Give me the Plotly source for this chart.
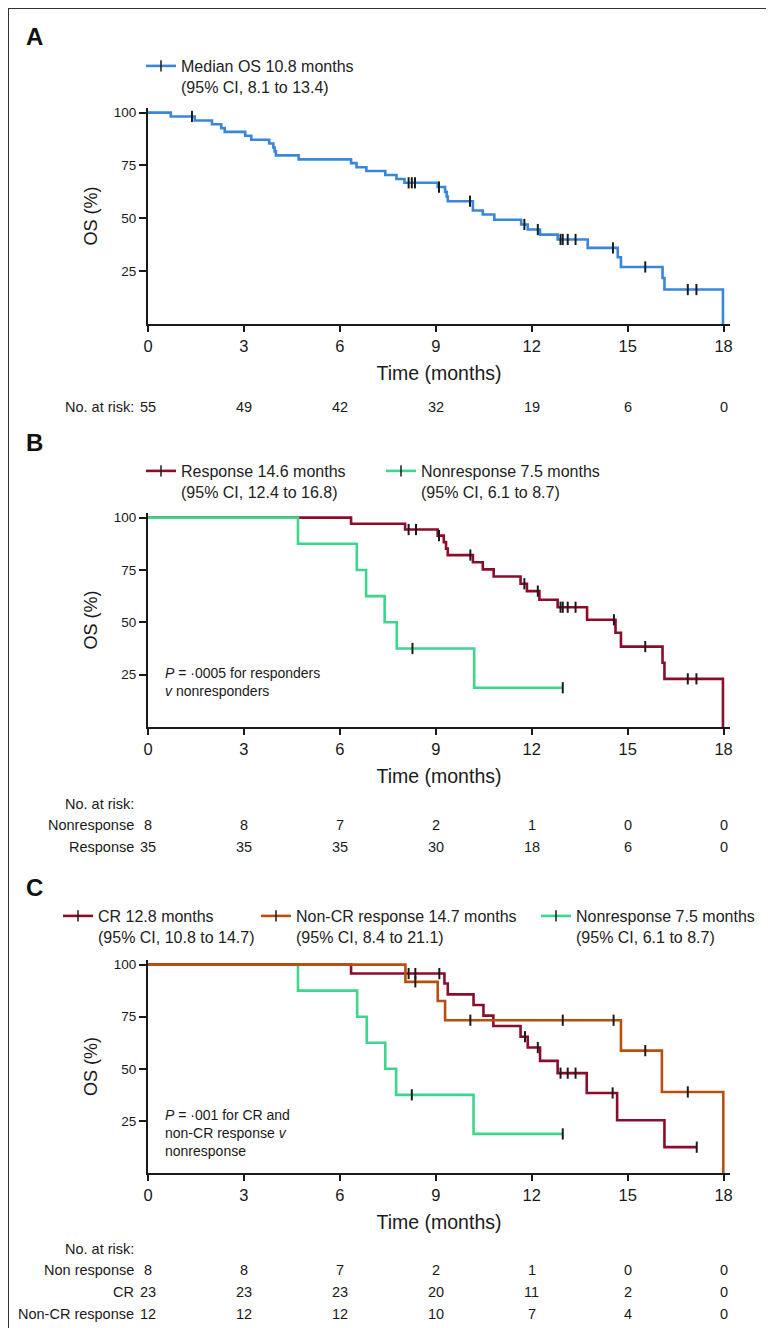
import plotly.graph_objects as go

# ---------------- data ----------------
risk_ticks = [0, 3, 6, 9, 12, 15, 18]
y_ticks = [25, 50, 75, 100]

# Panel A - all patients
a_time = [0, 0.71, 1.46, 2.0, 2.29, 2.40, 3.04, 3.23, 3.79, 3.92, 3.96, 4.0, 4.71,
          6.35, 6.52, 6.83, 7.42, 7.77, 8.02, 9.06, 9.29, 9.34, 9.375, 10.16, 10.47,
          10.83, 11.67, 11.875, 12.26, 12.81, 13.75, 14.69, 14.79, 16.09, 16.15, 17.98]
a_surv = [100, 98.2, 96.3, 94.5, 92.7, 90.9, 89.1, 87.2, 85.4, 83.5, 81.7, 79.8, 77.9,
          76.1, 74.2, 72.4, 70.5, 68.6, 66.8, 64.8, 62.5, 60.3, 58.1, 53.7, 51.8,
          49.3, 47.1, 44.7, 42.3, 40.0, 36.0, 31.6, 27.0, 21.8, 16.3, 0]
a_cens_time = [1.375, 8.15, 8.25, 8.35, 9.1, 10.07, 11.77, 12.19, 12.9, 12.97, 13.125,
               13.37, 14.54, 15.55, 16.88, 17.15]
a_cens_surv = [98.2, 66.8, 66.8, 66.8, 64.8, 58.1, 47.1, 44.7, 40.0, 40.0, 40.0,
               40.0, 36.0, 27.0, 16.3, 16.3]
a_risk = [55, 49, 42, 32, 19, 6, 0]

# Panel B - response vs nonresponse
b_resp_time = [0, 6.35, 8.04, 9.06, 9.25, 9.32, 9.375, 10.16, 10.47, 10.81, 11.65,
               11.85, 12.24, 12.81, 13.73, 14.62, 14.79, 16.09, 16.15, 17.98]
b_resp_surv = [100, 97.1, 94.3, 91.4, 88.3, 85.2, 82.1, 78.7, 75.3, 71.9, 68.4,
               64.9, 60.8, 57.2, 51.2, 45.0, 38.4, 30.7, 23.0, 0]
b_resp_cens_time = [8.15, 8.38, 9.1, 10.08, 11.77, 12.19, 12.9, 12.97, 13.125, 13.37,
                    14.57, 15.55, 16.88, 17.15]
b_resp_cens_surv = [94.3, 94.3, 91.4, 82.1, 68.4, 64.9, 57.2, 57.2, 57.2, 57.2,
                    51.2, 38.4, 23.0, 23.0]
b_non_time = [0, 4.69, 6.53, 6.82, 7.4, 7.78, 10.2, 12.97]
b_non_surv = [100, 87.5, 75.0, 62.5, 50.0, 37.5, 18.75, 18.75]
b_non_cens_time = [8.27, 12.97]
b_non_cens_surv = [37.5, 18.75]
b_non_risk = [8, 8, 7, 2, 1, 0, 0]
b_resp_risk = [35, 35, 35, 30, 18, 6, 0]

# Panel C - CR vs non-CR response vs nonresponse
c_cr_time = [0, 6.35, 9.27, 9.375, 10.18, 10.49, 10.8, 11.65, 11.875, 12.26, 12.81,
             13.72, 14.67, 16.15, 17.16]
c_cr_surv = [100, 95.7, 90.9, 85.7, 80.6, 75.5, 70.5, 65.4, 60.2, 53.8, 47.9,
             38.4, 25.3, 12.4, 12.4]
c_cr_cens_time = [8.15, 8.36, 9.11, 11.79, 12.19, 12.9, 13.125, 13.37, 14.53, 17.16]
c_cr_cens_surv = [95.7, 95.7, 95.7, 65.4, 60.2, 47.9, 47.9, 47.9, 38.4, 12.4]
c_ncr_time = [0, 8.05, 9.06, 9.29, 14.79, 16.07, 17.99]
c_ncr_surv = [100, 91.7, 82.5, 73.3, 58.7, 38.9, 0]
c_ncr_cens_time = [8.36, 10.08, 12.97, 14.56, 15.55, 16.88]
c_ncr_cens_surv = [91.7, 73.3, 73.3, 73.3, 58.7, 38.9]
c_non_time = [0, 4.69, 6.54, 6.84, 7.42, 7.76, 10.18, 12.97]
c_non_surv = [100, 87.5, 75.0, 62.5, 50.0, 37.5, 18.75, 18.75]
c_non_cens_time = [8.25, 12.97]
c_non_cens_surv = [37.5, 18.75]
c_non_risk = [8, 8, 7, 2, 1, 0, 0]
c_cr_risk = [23, 23, 23, 20, 11, 2, 0]
c_ncr_risk = [12, 12, 12, 10, 7, 4, 0]

# ---------------- styling ----------------
W, H = 774, 1328
SANS = "Liberation Sans, Arial, Helvetica, sans-serif"
INK = "#1a1a1a"
BLUE = "#3a86d8"
RED = "#8c0c2c"
GREEN = "#3ed68d"
ORANGE = "#b7500f"


def py(y):
    # pixel row (from top) -> paper coordinate
    return 1 - y / H


fig = go.Figure()


def add_curve(t, s, ct, cs, color, n):
    xa, ya = ("x", "y") if n == 1 else (f"x{n}", f"y{n}")
    fig.add_trace(go.Scatter(x=t, y=s, mode="lines", xaxis=xa, yaxis=ya,
                             line=dict(color=color, width=2.6, shape="hv"),
                             showlegend=False, hoverinfo="skip"))
    fig.add_trace(go.Scatter(x=ct, y=cs, mode="markers", xaxis=xa, yaxis=ya,
                             marker=dict(symbol="line-ns", size=8,
                                         line=dict(color=INK, width=2)),
                             showlegend=False, hoverinfo="skip"))


def add_key(name, color, legend):
    fig.add_trace(go.Scatter(x=[None], y=[None], mode="lines+markers", name=name,
                             line=dict(color=color, width=2.6),
                             marker=dict(symbol="line-ns", size=8,
                                         line=dict(color=INK, width=1.5)),
                             legend=legend))


def legend_box(x_px, y_px):
    return dict(x=x_px / W, y=py(y_px), xanchor="left", yanchor="top",
                bgcolor="rgba(0,0,0,0)", borderwidth=0, valign="top",
                itemwidth=30, font=dict(family=SANS, size=16, color="#222"))


add_curve(a_time, a_surv, a_cens_time, a_cens_surv, BLUE, 1)
add_curve(b_resp_time, b_resp_surv, b_resp_cens_time, b_resp_cens_surv, RED, 2)
add_curve(b_non_time, b_non_surv, b_non_cens_time, b_non_cens_surv, GREEN, 2)
add_curve(c_non_time, c_non_surv, c_non_cens_time, c_non_cens_surv, GREEN, 3)
add_curve(c_cr_time, c_cr_surv, c_cr_cens_time, c_cr_cens_surv, RED, 3)
add_curve(c_ncr_time, c_ncr_surv, c_ncr_cens_time, c_ncr_cens_surv, ORANGE, 3)

add_key("Median OS 10.8 months<br>(95% CI, 8.1 to 13.4)", BLUE, "legend")
add_key("Response 14.6 months<br>(95% CI, 12.4 to 16.8)", RED, "legend2")
add_key("Nonresponse 7.5 months<br>(95% CI, 6.1 to 8.7)", GREEN, "legend3")
add_key("CR 12.8 months<br>(95% CI, 10.8 to 14.7)", RED, "legend4")
add_key("Non-CR response 14.7 months<br>(95% CI, 8.4 to 21.1)", ORANGE, "legend5")
add_key("Nonresponse 7.5 months<br>(95% CI, 6.1 to 8.7)", GREEN, "legend6")

# plot areas in pixels: (top, bottom)
panels = [(100, 316), (505, 719), (952, 1165)]

layout = dict(width=W, height=H, margin=dict(l=0, r=0, t=0, b=0),
              plot_bgcolor="white", paper_bgcolor="white", showlegend=True,
              legend=legend_box(133, 41),
              legend2=legend_box(133, 446), legend3=legend_box(373, 446),
              legend4=legend_box(50, 891), legend5=legend_box(248, 891),
              legend6=legend_box(528, 891))

for i, (top, bot) in enumerate(panels, start=1):
    sfx = "" if i == 1 else str(i)
    layout["xaxis" + sfx] = dict(
        domain=[140 / W, 722 / W], range=[0, 18.2], anchor="y" + sfx,
        tickvals=risk_ticks, ticks="outside", ticklen=6, tickwidth=1.5, tickcolor=INK,
        showline=True, linecolor=INK, linewidth=2, showgrid=False, zeroline=False,
        tickfont=dict(family=SANS, size=16.5, color=INK), automargin=False,
        title=dict(text="Time (months)", font=dict(family=SANS, size=19.5, color=INK),
                   standoff=13))
    layout["yaxis" + sfx] = dict(
        domain=[py(bot), py(top)], range=[0, 102.2], anchor="x" + sfx,
        tickvals=y_ticks, ticks="outside", ticklen=7, tickwidth=1.5, tickcolor=INK,
        showline=True, linecolor=INK, linewidth=2, showgrid=False, zeroline=False,
        tickfont=dict(family=SANS, size=13.5, color=INK), automargin=False,
        title=dict(text="OS (%)", font=dict(family=SANS, size=18, color=INK),
                   standoff=11))

fig.update_layout(**layout)

# panel letters
for letter, y in [("A", 28), ("B", 434), ("C", 879)]:
    fig.add_annotation(x=16 / W, y=py(y), xref="paper", yref="paper", text=f"<b>{letter}</b>",
                       showarrow=False, xanchor="left", yanchor="middle",
                       font=dict(family=SANS, size=24, color="#111"))

# P value notes
fig.add_annotation(x=155 / W, y=py(674), xref="paper", yref="paper", align="left",
                   text="<i>P</i> = ·0005 for responders<br><i>v</i> nonresponders",
                   showarrow=False, xanchor="left", yanchor="middle",
                   font=dict(family=SANS, size=14, color=INK))
fig.add_annotation(x=155 / W, y=py(1125), xref="paper", yref="paper", align="left",
                   text="<i>P</i> = ·001 for CR and<br>non-CR response <i>v</i><br>nonresponse",
                   showarrow=False, xanchor="left", yanchor="middle",
                   font=dict(family=SANS, size=14, color=INK))


def risk_row(label, values, y, xref):
    fig.add_annotation(x=128 / W, y=py(y), xref="paper", yref="paper", text=label,
                       showarrow=False, xanchor="right", yanchor="middle",
                       font=dict(family=SANS, size=14.5, color=INK))
    if values is None:
        return
    for t, v in zip(risk_ticks, values):
        fig.add_annotation(x=t, y=py(y), xref=xref, yref="paper", text=str(v),
                           showarrow=False, xanchor="center", yanchor="middle",
                           font=dict(family=SANS, size=14.5, color=INK))


risk_row("No. at risk:", a_risk, 399, "x")
risk_row("No. at risk:", None, 796, "x2")
risk_row("Nonresponse", b_non_risk, 817, "x2")
risk_row("Response", b_resp_risk, 839, "x2")
risk_row("No. at risk:", None, 1241, "x3")
risk_row("Non response", c_non_risk, 1262, "x3")
risk_row("CR", c_cr_risk, 1284, "x3")
risk_row("Non-CR response", c_ncr_risk, 1306, "x3")

# thin frame around the whole figure
fig.add_shape(type="rect", xref="paper", yref="paper", x0=0, y0=0, x1=1, y1=1,
              line=dict(color="#333", width=2))

fig.write_html("out.html")
